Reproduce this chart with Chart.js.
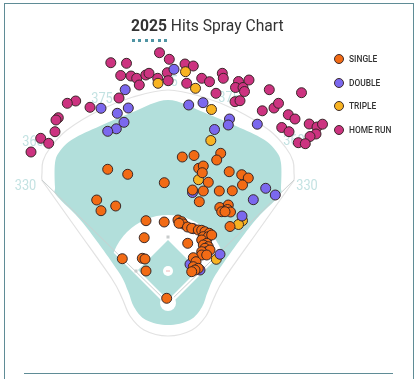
<!DOCTYPE html>
<html><head><meta charset="utf-8">
<script src="https://cdn.jsdelivr.net/npm/chart.js@4.4.1/dist/chart.umd.min.js"></script>
<style>
html,body{margin:0;padding:0;background:#fff;width:419px;height:379px;overflow:hidden;font-family:Roboto,"Noto Sans",sans-serif;}
#wrap{position:relative;width:419px;height:379px;}
#c{position:absolute;left:0;top:0;}
.frame{position:absolute;left:4px;top:3px;width:410px;height:400px;border:1px solid #5f8c96;border-bottom:none;box-sizing:border-box;}
.bottomline{position:absolute;left:24px;top:373px;width:369px;height:1px;background:#5f8c96;}
.title{position:absolute;left:131px;top:15px;font-size:17px;line-height:20px;color:#333;white-space:nowrap;transform:scaleX(0.92);transform-origin:left center;}
.title b{font-weight:700;}
.dots{position:absolute;left:131.7px;top:39px;width:35.5px;height:2.7px;background:repeating-linear-gradient(90deg,#4f94a3 0 2.7px,transparent 2.7px 6.5px);}
.legend{position:absolute;left:334px;top:54px;}
.legend .row{position:absolute;left:0;height:10px;white-space:nowrap;}
.legend .sw{position:absolute;left:0;top:0;width:10px;height:10px;border-radius:50%;border:1px solid #3b2a2a;box-sizing:border-box;}
.legend .tx{position:absolute;left:15px;top:-1px;font-size:9px;line-height:12px;font-weight:500;color:#333;transform:scaleX(0.93);transform-origin:left center;}
</style></head>
<body><div id="wrap">
<canvas id="c" width="419" height="379"></canvas>
<div class="frame"></div>
<div class="bottomline"></div>
<div class="title"><b>2025</b> Hits Spray Chart</div>
<div class="dots"></div>
<div class="legend" id="legend"></div>
</div>
<script>
// Hit locations in field units (home plate = origin, x to the right, y toward center field)
const singles = [
 [14.3,146],[26,147.5],[-60.3,133.7],[-40.3,128.7],[-3.7,120.3],[30.7,134.7],[35.3,137],[34.3,130.3],
 [40.3,120.7],[52.7,149.7],[48.7,143],[61.2,131.3],[73.7,128.3],[80.3,125],[74.5,118],[24.5,113],
 [35.3,112],[51.3,112],[64.3,112.2],[31.3,101.3],[-71.3,103],[-67,92.3],[-52.3,97],[-22,82.3],
 [-3.8,81],[10,83],[13.7,81.3],[15.3,79],[11,79.7],[19.5,76],[23.7,74.7],[30.3,73],[33.7,72.7],
 [37,71.3],[41.3,69.7],[35.3,66.3],[40.3,66.3],[43.7,68],[-23.8,65.3],[19.7,59.7],[33.7,63],
 [38.7,59.7],[35.3,58],[40.3,56.3],[37,54.7],[38.7,51.3],[42,53],[33.7,51.3],[33.7,48],[38.7,48],
 [25.3,45.3],[28,41.3],[25.3,36.3],[30.3,34.7],[27,33],[23.7,31.3],[-45.7,44.3],[-25.7,44.7],
 [-23,44],[-22,32],[-1.3,4.7],[51.8,95.5],[53.7,91.3],[60.3,98],[59.5,93.5],[62.5,91],[57,91.3],[62,76.5]
];
const doubles = [
 [6,233.7],[-42.8,213.3],[-67,194.7],[-39.7,195],[-50.7,189.7],[-44,180.7],[-51.7,174.2],[-60.3,171.7],
 [20.7,198],[35,200.3],[61.5,184],[60.3,178],[46.5,173.5],[89.3,178.8],[97.7,114.7],[107.3,108],
 [85.3,103.3],[74,87],[52,48.7],[25.3,74.3],[22,38.7],[32,33],[24.5,110.5]
];
const triples = [
 [17.5,231.3],[-10,219.7],[27.5,214.7],[43.5,193.5],[42.8,162.5],[30.5,123.3],[74.5,82.3],[70.5,78.5],[48.3,43.7]
];
const homeRuns = [
 [-8.5,250.3],[1.3,243.7],[-57.2,240.3],[-41.5,239.7],[17,239],[25.3,237],[-47.3,227.5],[-37,227],
 [-31.3,224.7],[-22.2,228],[-19,229.7],[-28.7,218],[-10.3,224.7],[-0.7,230.3],[0.2,222.3],[18.7,219.7],
 [33.7,224.7],[41.5,221.3],[-49,205],[-92.3,202],[-100.7,199.7],[-78,195.7],[-109.7,185.3],[-112,183],
 [-113,171.3],[-127.3,164.7],[-119.3,159.7],[-137,151],[54.3,229.7],[55.3,224.7],[48,209.7],[70.5,221.5],
 [67.5,215.5],[75,215.5],[76.5,211.5],[81,223],[101.3,213.3],[133.5,210.3],[67,201.3],[72,202.3],
 [94.3,192.2],[106,195],[110.5,199.7],[120.3,188.3],[127,184],[113.7,175.5],[121,171.3],[141.2,179],
 [149,176],[154.5,178.8],[148,169],[142,166.5],[130.3,160.3],[137.3,159.3]
];
const hitTypes = ['SINGLE','DOUBLE','TRIPLE','HOME RUN'];
const distanceLabels = ['330','360','375','405','375','360','330'];

const colors = ['#f26b15','#7b68ee','#f8b322','#cc3380'];
const distancePos = [[-142.5,116.5],[-135,161],[-66,204],[-1,221],[61,205],[126,162],[139,117]];

const leg = document.getElementById('legend');
hitTypes.forEach((t,i)=>{
  const r=document.createElement('div'); r.className='row'; r.style.top=(i*23.5)+'px';
  r.innerHTML='<span class="sw" style="background:'+colors[i]+'"></span><span class="tx">'+t+'</span>';
  leg.appendChild(r);
});

function mirror(left){ return left.concat(left.slice(1,-1).reverse().map(p=>[-p[0],p[1]])); }
const parkHalf = [[0,-33],[-24,-27],[-38,-13],[-46,5],[-56,24],[-90,72],[-122,117],[-126,123],[-126,130],[-125,142],[-118,155],[-101,173],[-68,193],[-35,206],[0,213]];
const grassHalf = [[0,-22],[-22,-17],[-34,-4],[-40,12],[-50,32],[-85,80],[-111,107],[-113,116],[-113,140],[-108,152],[-95,164],[-68,177],[-35,191],[0,203]];

const fieldPlugin = {
  id:'field',
  beforeDatasetsDraw(chart){
    const {ctx, scales:{x,y}} = chart;
    const P = p=>[x.getPixelForValue(p[0]), y.getPixelForValue(p[1])];
    const ux = Math.abs(x.getPixelForValue(1)-x.getPixelForValue(0));
    function smooth(pts){
      const q=pts.map(P), n=q.length;
      ctx.beginPath(); ctx.moveTo(q[0][0],q[0][1]);
      for(let i=0;i<n;i++){
        const p0=q[(i-1+n)%n],p1=q[i],p2=q[(i+1)%n],p3=q[(i+2)%n];
        ctx.bezierCurveTo(p1[0]+(p2[0]-p0[0])/6,p1[1]+(p2[1]-p0[1])/6,p2[0]-(p3[0]-p1[0])/6,p2[1]-(p3[1]-p1[1])/6,p2[0],p2[1]);
      }
      ctx.closePath();
    }
    function poly(pts){ const q=pts.map(P); ctx.beginPath(); ctx.moveTo(q[0][0],q[0][1]); q.slice(1).forEach(p=>ctx.lineTo(p[0],p[1])); ctx.closePath(); }
    ctx.save();
    // distance labels
    ctx.fillStyle='#c3e2e2'; ctx.font='15px Roboto'; ctx.textAlign='center'; ctx.textBaseline='middle';
    distanceLabels.forEach((t,i)=>{ const p=P(distancePos[i]); ctx.save(); ctx.translate(p[0],p[1]); ctx.scale(0.85,1); ctx.fillText(t,0,0); ctx.restore(); });
    // park outline
    smooth(mirror(parkHalf)); ctx.fillStyle='#ffffff'; ctx.fill(); ctx.strokeStyle='#e2e2e2'; ctx.lineWidth=1.2; ctx.stroke();
    // grass
    smooth(mirror(grassHalf)); ctx.fillStyle='#b2dfdb'; ctx.fill();
    // infield dirt
    ctx.save(); poly([[0,-4],[-90,86],[-90,200],[90,200],[90,86]]); ctx.clip();
    const c=P([0,30]); ctx.beginPath(); ctx.arc(c[0],c[1],58*ux,0,Math.PI*2); ctx.fillStyle='#ffffff'; ctx.fill();
    ctx.restore();
    // infield grass
    poly([[0,3],[-30,33],[0,63],[30,33]]); ctx.fillStyle='#b2dfdb'; ctx.fill();
    // foul lines
    ctx.strokeStyle='#c9cfcf'; ctx.lineWidth=1;
    [[-126,123],[126,123]].forEach(e=>{ const a=P([0,0]),b=P(e); ctx.beginPath(); ctx.moveTo(a[0],a[1]); ctx.lineTo(b[0],b[1]); ctx.stroke(); });
    // home plate & mound
    const h=P([0,0]); ctx.beginPath(); ctx.arc(h[0],h[1],8*ux,0,Math.PI*2); ctx.fillStyle='#fff'; ctx.fill();
    const m=P([0,32]); ctx.beginPath(); ctx.arc(m[0],m[1],5*ux,0,Math.PI*2); ctx.fill();
    ctx.fillStyle='#f0b8b8'; ctx.fillRect(m[0]-2,m[1]-0.5,4,1);
    ctx.fillStyle='#c8cccc';
    [[0,66],[-32,32],[32,32]].forEach(b=>{ const p=P(b); ctx.fillRect(p[0]-1.5,p[1]-1.5,3,3); });
    ctx.restore();
  }
};

const sets=[singles,doubles,triples,homeRuns];
new Chart(document.getElementById('c'),{
  type:'scatter',
  data:{datasets:hitTypes.map((t,i)=>({
    label:t, data:sets[i].map(p=>({x:p[0],y:p[1]})),
    backgroundColor:colors[i], borderColor:'rgba(50,35,35,0.95)', borderWidth:1,
    pointRadius:5, pointHoverRadius:5, clip:false
  }))},
  options:{
    responsive:false, animation:false, events:[],
    layout:{padding:0, autoPadding:false},
    plugins:{legend:{display:false}, tooltip:{enabled:false}, title:{display:false}},
    scales:{
      x:{type:'linear', min:-168, max:251, display:false},
      y:{type:'linear', min:-76, max:303, display:false}
    }
  },
  plugins:[fieldPlugin]
});
</script>
</body></html>
